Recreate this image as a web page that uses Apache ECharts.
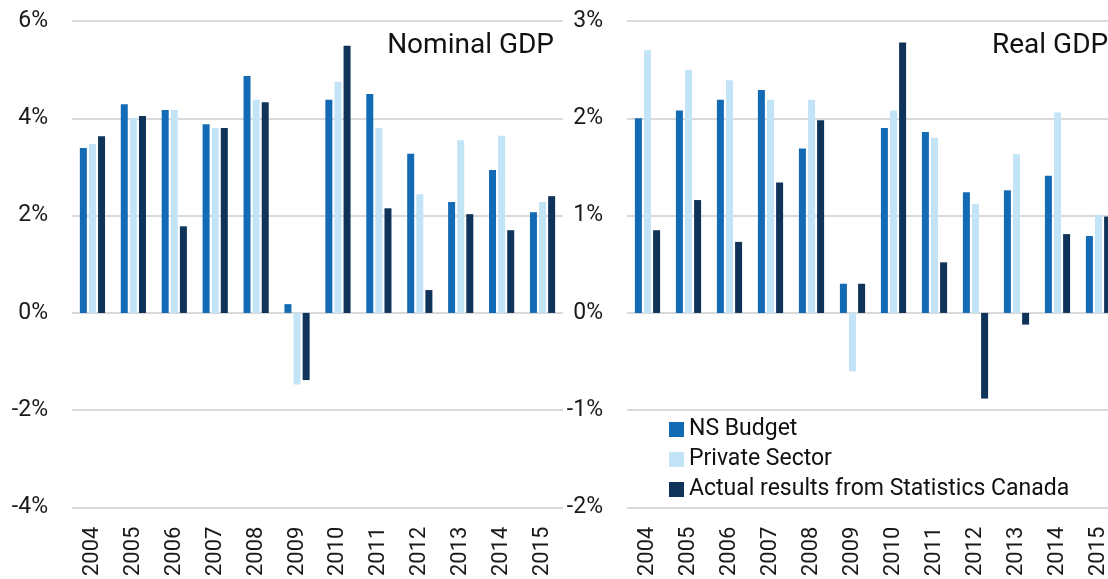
<!DOCTYPE html>
<html><head><meta charset="utf-8">
<script src="https://cdn.jsdelivr.net/npm/echarts@6/dist/echarts.min.js"></script>
<style>html,body{margin:0;padding:0;background:#fff;overflow:hidden;width:1108px;height:579px}#c{width:1125px;height:579px}</style>
</head><body><div id="c"></div>
<script>
const years = ['2004','2005','2006','2007','2008','2009','2010','2011','2012','2013','2014','2015'];
const seriesNames = ['NS Budget','Private Sector','Actual results from Statistics Canada'];
const colors = ['#136ab5','#c2e4f6','#0f3359'];
// Nominal GDP growth (%)
const nominalNS     = [3.39, 4.29, 4.17, 3.88, 4.87, 0.18, 4.38, 4.50, 3.27, 2.28, 2.94, 2.07];
const nominalPriv   = [3.47, 4.00, 4.17, 3.80, 4.38, -1.47, 4.75, 3.80, 2.44, 3.55, 3.64, 2.28];
const nominalActual = [3.63, 4.05, 1.78, 3.80, 4.33, -1.38, 5.49, 2.15, 0.47, 2.03, 1.70, 2.40];
// Real GDP growth (%)
const realNS     = [2.00, 2.08, 2.19, 2.29, 1.69, 0.30, 1.90, 1.86, 1.24, 1.26, 1.41, 0.79];
const realPriv   = [2.70, 2.50, 2.39, 2.19, 2.19, -0.60, 2.08, 1.80, 1.12, 1.63, 2.06, 1.01];
const realActual = [0.85, 1.16, 0.73, 1.34, 1.98, 0.30, 2.78, 0.52, -0.88, -0.12, 0.81, 0.99];
const titles = ['Nominal GDP','Real GDP'];

const font = 'Roboto';
const chart = echarts.init(document.getElementById('c'));
const grids = [
  {left: 72, top: 21, width: 491, height: 487},
  {left: 627, top: 21, width: 492, height: 487}
];
const xAxis = [0,1].map(i => ({
  type: 'category', gridIndex: i, data: years,
  axisLine: {show: false}, axisTick: {show: false},
  axisLabel: {rotate: 90, fontSize: 22, color: '#1a1a1a', fontFamily: font, margin: 19}
}));
const yAxis = [
  {type: 'value', gridIndex: 0, min: -4, max: 6, interval: 2},
  {type: 'value', gridIndex: 1, min: -2, max: 3, interval: 1}
].map(a => Object.assign(a, {
  axisLine: {show: false}, axisTick: {show: false},
  splitLine: {lineStyle: {color: '#d9d9d9', width: 2}},
  axisLabel: {formatter: '{value}%', fontSize: 23, color: '#1a1a1a', fontFamily: font, margin: 24}
}));
const data = [[nominalNS, nominalPriv, nominalActual],[realNS, realPriv, realActual]];
const series = [];
[0,1].forEach(g => {
  data[g].forEach((d, k) => {
    series.push({
      type: 'bar', name: seriesNames[k], xAxisIndex: g, yAxisIndex: g,
      data: d, barWidth: 7, barGap: '30%',
      itemStyle: {color: colors[k]}, emphasis: {disabled: true}
    });
  });
});
chart.setOption({
  animation: false,
  textStyle: {fontFamily: font},
  grid: grids, xAxis, yAxis, series,
  title: [
    {text: titles[0], right: 1125 - 554, top: 32, padding: 0, textStyle: {fontSize: 28, fontWeight: 'normal', color: '#111', fontFamily: font}},
    {text: titles[1], left: 992, top: 32, padding: 0, textStyle: {fontSize: 28, fontWeight: 'normal', color: '#111', fontFamily: font}}
  ],
  legend: {
    data: seriesNames, orient: 'vertical', left: 664, top: 413,
    itemWidth: 15, itemHeight: 15, itemGap: 7, icon: 'rect',
    textStyle: {fontSize: 23, color: '#111', fontFamily: font}
  }
});
</script></body></html>
